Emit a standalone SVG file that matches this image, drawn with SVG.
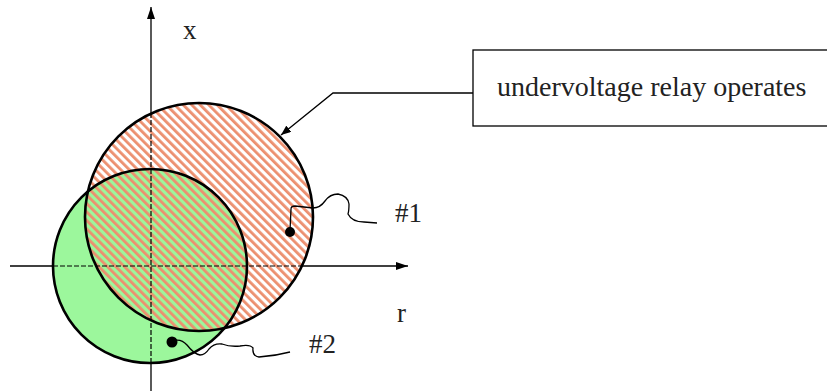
<svg xmlns="http://www.w3.org/2000/svg" width="827" height="391" viewBox="0 0 827 391">
<style>
.ax{stroke:#000;stroke-width:1.3;fill:none}
.dash{stroke:#000;stroke-width:1.2;fill:none;stroke-dasharray:5 2}
.outline{stroke:#000;stroke-width:2.6;fill:none}
.lead{stroke:#000;stroke-width:1.3;fill:none}
.lbl{font-family:"Liberation Serif","Times New Roman",serif;font-size:27px;fill:#222}
.box-text{font-size:28px}
</style>
<defs>
<pattern id="hatch" patternUnits="userSpaceOnUse" width="6" height="6" patternTransform="rotate(-45)">
<rect x="0" y="0" width="2.8" height="6" fill="#ec8f6f"/>
</pattern>
<marker id="ah" viewBox="0 0 10 8" refX="10" refY="4" markerWidth="10" markerHeight="8" markerUnits="userSpaceOnUse" orient="auto">
<path d="M0,0 L10,4 L0,8 Z" fill="#000"/>
</marker>
<marker id="ah2" viewBox="0 0 12 8" refX="12" refY="4" markerWidth="12" markerHeight="8" markerUnits="userSpaceOnUse" orient="auto">
<path d="M0,0 L12,4 L0,8 Z" fill="#000"/>
</marker>
</defs>
<g id="region2">
<circle cx="150" cy="266" r="97" fill="#9cf79c"/>
</g>
<g id="region1">
<circle cx="199" cy="217" r="114" fill="url(#hatch)"/>
</g>
<g id="axes">
<line class="dash" x1="151" y1="113" x2="151" y2="363"/>
<line class="dash" x1="53" y1="266" x2="302" y2="266"/>
<line class="ax" x1="151" y1="113" x2="151" y2="7" marker-end="url(#ah2)"/>
<line class="ax" x1="151" y1="363" x2="151" y2="391"/>
<line class="ax" x1="10" y1="266" x2="53" y2="266"/>
<line class="ax" x1="302" y1="266" x2="408" y2="266" marker-end="url(#ah2)"/>
</g>
<g id="outlines">
<circle class="outline" cx="150" cy="266" r="97"/>
<circle class="outline" cx="199" cy="217" r="114"/>
</g>
<g id="labels">
<text class="lbl" x="183" y="39">x</text>
<text class="lbl" x="397" y="322">r</text>
<text class="lbl" x="395" y="222">#1</text>
<text class="lbl" x="309" y="353">#2</text>
</g>
<g id="box">
<rect x="473" y="50" width="370" height="76" fill="#fff" stroke="#000" stroke-width="1.3"/>
<text class="lbl box-text" x="497" y="96">undervoltage relay operates</text>
</g>
<g id="connectors">
<polyline class="lead" points="473,93 333,93 281,135" marker-end="url(#ah)"/>
<path class="lead" d="M290,231 L291,209 Q291,206 295,206 L313,208 Q320,208 325,201 Q330,194 338,194 Q348,196 349,204 Q349,211 348,214 Q352,222 364,222 L377,223"/>
<circle cx="290" cy="232" r="5" fill="#000"/>
<path class="lead" d="M172,341 Q181,338 187,345 Q194,354 200,355 Q205,355 209,349 Q214,343 222,344 Q230,347 240,346 Q250,344 253,348 Q252,356 259,357 Q275,356 290,352"/>
<circle cx="172" cy="342" r="5.5" fill="#000"/>
</g>
</svg>
